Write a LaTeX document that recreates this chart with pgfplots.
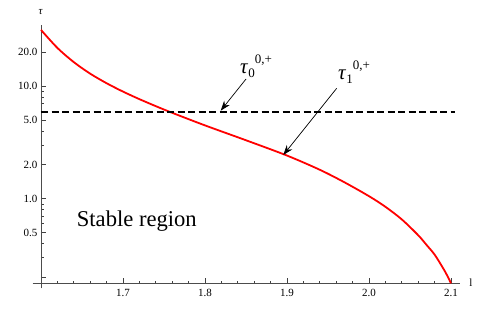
\documentclass[border=0pt]{standalone}
\usepackage{pgfplots}
\pgfplotsset{compat=1.18}
\usepackage{fontspec}
\setmainfont{Liberation Serif}
\usetikzlibrary{arrows.meta}
\begin{document}
\begin{tikzpicture}[x=1bp,y=1bp]
\begin{axis}[
  scale only axis,
  width=419bp, height=258.3bp,
  at={(0,0)}, anchor=south west,
  xmin=1.6, xmax=2.111,
  ymode=log, ymin=0.178, ymax=34.7,
  axis lines*=left,
  axis line style={draw=black!70, line width=0.8bp},
  x axis line style={shorten <=-8.3bp},
  y axis line style={shorten <=-5bp},
  tick align=inside,
  major tick length=5bp, minor tick length=2.8bp,
  tick style={black!75, line width=0.6bp},
  xtick={1.7,1.8,1.9,2.0,2.1},
  xticklabels={1.7,1.8,1.9,2.0,2.1},
  minor xtick={1.62,1.64,1.66,1.68,1.72,1.74,1.76,1.78,1.82,1.84,1.86,1.88,1.92,1.94,1.96,1.98,2.02,2.04,2.06,2.08,2.10},
  ytick={0.2,0.5,1,2,5,10,20},
  yticklabels={,0.5,1.0,2.0,5.0,10.0,20.0},
  minor ytick={0.3,0.4,0.6,0.7,0.8,0.9,3,4,6,7,8,9,30},
  /pgf/number format/assume math mode=true,
  ticklabel style={font=\fontsize{11bp}{12bp}\selectfont},
  xticklabel style={yshift=-2bp},
  clip=false,
]
\addplot[red, line width=1.8bp, smooth] coordinates {
(1.60,31.4) (1.62,21.73) (1.64,16.26) (1.66,12.85) (1.68,10.57) (1.70,8.91)
(1.72,7.64) (1.74,6.62) (1.76,5.78) (1.80,4.47) (1.85,3.30) (1.90,2.415)
(1.94,1.807) (1.97,1.400) (2.00,1.054) (2.02,0.849) (2.04,0.656) (2.06,0.475)
(2.07,0.391) (2.08,0.320) (2.09,0.245) (2.095,0.211) (2.10,0.178)
};
\addplot[black, line width=1.6bp, dash pattern=on 7bp off 3.5bp] coordinates {(1.6,5.85) (2.105,5.85)};
\end{axis}
% axis labels
\node[font=\fontsize{11bp}{12bp}\selectfont\itshape] at (-0.3,271.6) {τ};
\node[font=\fontsize{11bp}{12bp}\selectfont] at (430,1) {l};
% annotations
\node[anchor=base west, font=\fontsize{22.6bp}{24bp}\selectfont, inner sep=0] at (35.7,56.6) {Stable region};
\node[anchor=base west, inner sep=0] at (199,210) {\fontsize{21bp}{22bp}\selectfont\textit{τ}\raisebox{-4bp}{\fontsize{13bp}{13bp}\selectfont 0}\raisebox{10bp}{\fontsize{13bp}{13bp}\selectfont 0,+}};
\node[anchor=base west, inner sep=0] at (297,204) {\fontsize{21bp}{22bp}\selectfont\textit{τ}\raisebox{-4bp}{\fontsize{13bp}{13bp}\selectfont 1}\raisebox{10bp}{\fontsize{13bp}{13bp}\selectfont 0,+}};
\draw[line width=0.7bp, -{Stealth[length=10bp,width=7bp]}] (205,204.3) -- (179.7,172.6);
\draw[line width=0.7bp, -{Stealth[length=10bp,width=7bp]}] (295.7,195) -- (242.3,128.3);
\pgfresetboundingbox
\path[use as bounding box] (-41,-31.7) rectangle (445,283.3);
\end{tikzpicture}
\end{document}
